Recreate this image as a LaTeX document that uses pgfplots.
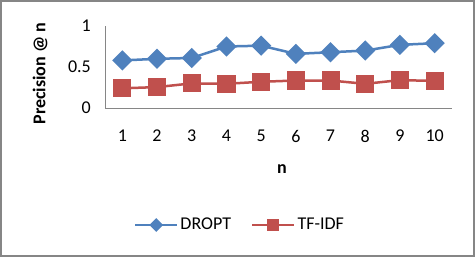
\documentclass[border=0pt]{standalone}
\usepackage{pgfplots}
\pgfplotsset{compat=1.18}
\usepackage{fontspec}
\setmainfont{Carlito}
\definecolor{sblue}{HTML}{4F81BD}
\definecolor{sred}{HTML}{C0504D}
\definecolor{axgray}{HTML}{868686}
\begin{document}
\fontsize{18bp}{22bp}\selectfont
\begin{tikzpicture}
\useasboundingbox (0,0) rectangle (475bp,257bp);
\fill[white] (0,0) rectangle (475bp,257bp);
\draw[line width=2bp, color=axgray] (1bp,1bp) rectangle (474bp,256bp);
\begin{axis}[
  at={(105bp,149bp)}, anchor=south west,
  scale only axis, width=347bp, height=82bp,
  xmin=0.5, xmax=10.5, ymin=0, ymax=1,
  xtick={1,...,10}, ytick={0,0.5,1},
  yticklabels={0,0.5,1},
  /pgf/number format/assume math mode=true,
  axis x line*=bottom, axis y line*=left,
  axis line style={axgray, line width=0.8bp, -},
  major tick length=0pt,
  tick style={draw=none},
  ticklabel style={font=\fontsize{18bp}{22bp}\selectfont},
  xticklabel style={yshift=-16bp},
  yticklabel style={xshift=-8bp},
  every axis y label/.style={at={(axis description cs:-0.187,0.42)}, rotate=90, anchor=center},
  every axis x label/.style={at={(axis description cs:0.51,-0.75)}, anchor=center},
  ylabel={\textbf{Precision @ n}},
  xlabel={\textbf{n}},
  label style={font=\fontsize{18bp}{22bp}\selectfont},
  legend columns=2,
  legend style={draw=none, fill=none, at={(axis description cs:0.389,-1.427)}, anchor=center,
    font=\fontsize{18bp}{22bp}\selectfont,
    /tikz/every even column/.append style={column sep=18bp}},
  legend image code/.code={%
    \draw[#1, mark=none] (0bp,0bp) -- (42bp,0bp);
    \draw[#1, every mark/.append style={scale=0.6}] plot coordinates {(21bp,0bp)};
  },
]
\addplot[color=sblue, line width=2.5bp, mark=square*, mark size=5.9bp, mark options={rotate=45, fill=sblue, draw=sblue}]
coordinates {(1,0.58)(2,0.60)(3,0.61)(4,0.75)(5,0.76)(6,0.66)(7,0.68)(8,0.70)(9,0.77)(10,0.79)};
\addlegendentry{DROPT}
\addplot[color=sred, line width=2.5bp, mark=square*, mark size=7.8bp, mark options={fill=sred, draw=sred}]
coordinates {(1,0.24)(2,0.255)(3,0.30)(4,0.295)(5,0.32)(6,0.335)(7,0.335)(8,0.295)(9,0.34)(10,0.33)};
\addlegendentry{TF-IDF}
\end{axis}
\end{tikzpicture}
\end{document}
